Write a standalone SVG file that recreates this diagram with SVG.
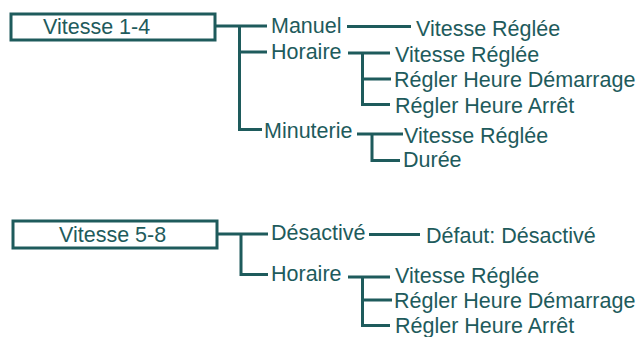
<svg xmlns="http://www.w3.org/2000/svg" width="639" height="337" viewBox="0 0 639 337">
<style>
.box{fill:#fff;stroke:#1e5b5c;stroke-width:3}
.ln{fill:none;stroke:#1e5b5c;stroke-width:3}
text{font-family:"Liberation Sans",Arial,sans-serif;font-size:21.5px;fill:#1e5b5c}
</style>
<rect width="639" height="337" fill="#fff"/>
<g id="connectors">
<path class="ln" d="M215,26 H267 M239.5,26 V129.5 H262 M239.5,52 H267"/>
<path class="ln" d="M347,26.5 H411"/>
<path class="ln" d="M348,53 H390 M362.5,53 V104.5 H390 M362.5,79 H391"/>
<path class="ln" d="M357,134 H403 M372,134 V160.5 H400"/>
<path class="ln" d="M217,234 H268 M241,234 V274.5 H268"/>
<path class="ln" d="M369,234.5 H420"/>
<path class="ln" d="M348,277 H390 M362.5,277 V325.5 H390 M362.5,300 H392"/>
</g>
<g id="n-v14"><rect class="box" x="11" y="14" width="204" height="26"/><text x="43" y="34">Vitesse 1-4</text></g>
<g id="n-manuel"><text x="271" y="33">Manuel</text></g>
<g id="n-manuel-vr"><text x="416" y="36">Vitesse Réglée</text></g>
<g id="n-horaire1"><text x="271" y="59">Horaire</text></g>
<g id="n-h1-vr"><text x="395" y="61.5">Vitesse Réglée</text></g>
<g id="n-h1-dem"><text x="394" y="87">Régler Heure Démarrage</text></g>
<g id="n-h1-arr"><text x="395" y="113">Régler Heure Arrêt</text></g>
<g id="n-minuterie"><text x="264" y="138">Minuterie</text></g>
<g id="n-m-vr"><text x="404" y="142.5">Vitesse Réglée</text></g>
<g id="n-m-dur"><text x="403" y="166.5">Durée</text></g>
<g id="n-v58"><rect class="box" x="13" y="221" width="204" height="27"/><text x="59" y="241.5">Vitesse 5-8</text></g>
<g id="n-desact"><text x="271" y="240">Désactivé</text></g>
<g id="n-defaut"><text x="426" y="242.5">Défaut: Désactivé</text></g>
<g id="n-horaire2"><text x="271" y="281">Horaire</text></g>
<g id="n-h2-vr"><text x="395" y="282.5">Vitesse Réglée</text></g>
<g id="n-h2-dem"><text x="394" y="308">Régler Heure Démarrage</text></g>
<g id="n-h2-arr"><text x="395" y="333">Régler Heure Arrêt</text></g>
</svg>
